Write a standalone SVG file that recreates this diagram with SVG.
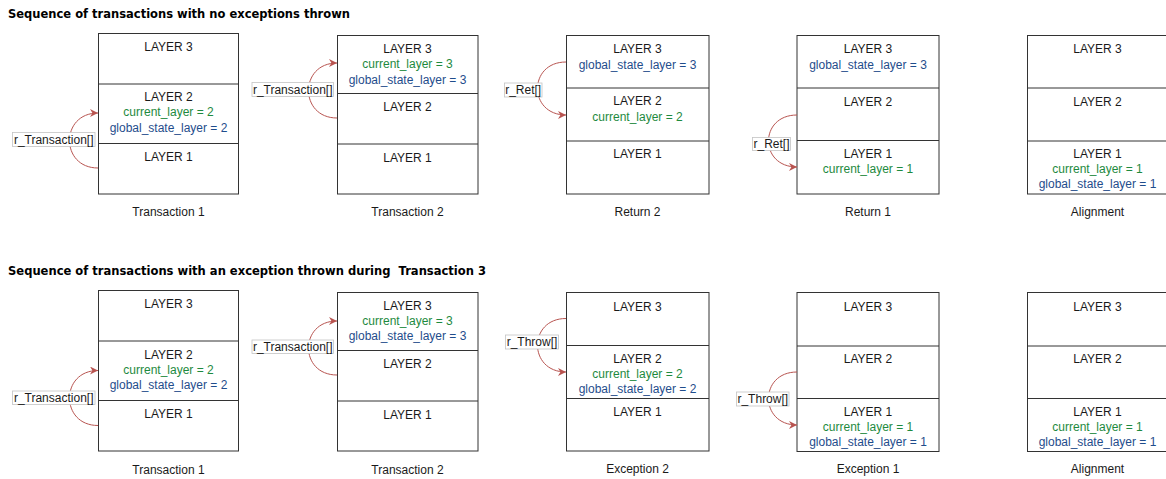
<svg xmlns="http://www.w3.org/2000/svg" width="1166" height="479" viewBox="0 0 1166 479">
<style>
.t{font-family:"Liberation Sans",Arial,Helvetica,sans-serif;font-size:12px;fill:#1a1a1a;text-anchor:middle}
.g{fill:#1e8a3e}
.b{fill:#1f4d8c}
.title{font-family:"DejaVu Sans",Verdana,sans-serif;font-size:13px;font-weight:bold;fill:#000;white-space:pre}
.box{fill:#fff;stroke:#333;stroke-width:1}
.div{stroke:#333;stroke-width:1}
.arr{fill:none;stroke:#b85450;stroke-width:1}
.lb{fill:#fff;stroke:#c4c4c4;stroke-width:0.8}
.lt{font-family:"Liberation Sans",Arial,Helvetica,sans-serif;font-size:12px;fill:#1a1a1a;text-anchor:middle}
</style>
<defs>
<marker id="ah" viewBox="0 0 10 10" refX="10" refY="5" markerWidth="8" markerHeight="8" markerUnits="userSpaceOnUse" orient="auto">
<path d="M0,0 L10,5 L0,10 L3,5 Z" fill="#b85450"/>
</marker>
</defs>
<rect width="1166" height="479" fill="#fff"/>

<text class="title" x="8" y="18.3" textLength="342" lengthAdjust="spacingAndGlyphs">Sequence of transactions with no exceptions thrown</text>
<text class="title" x="8" y="274.5" textLength="478" lengthAdjust="spacingAndGlyphs" xml:space="preserve">Sequence of transactions with an exception thrown during  Transaction 3</text>

<!-- Top row -->
<g id="top-transaction1">
<rect class="box" x="98.5" y="33.5" width="140" height="160.5"/>
<line class="div" x1="98.5" y1="84" x2="238.5" y2="84"/>
<line class="div" x1="98.5" y1="143.5" x2="238.5" y2="143.5"/>
<text class="t" x="168.5" y="51">LAYER 3</text>
<text class="t" x="168.5" y="101">LAYER 2</text>
<text class="t g" x="168.5" y="116">current_layer = 2</text>
<text class="t b" x="168.5" y="131.5">global_state_layer = 2</text>
<text class="t" x="168.5" y="161">LAYER 1</text>
<text class="t" x="168.5" y="216">Transaction 1</text>
</g>
<g id="top-transaction2">
<rect class="box" x="337.5" y="35.5" width="140.5" height="158.5"/>
<line class="div" x1="337.5" y1="93.5" x2="478" y2="93.5"/>
<line class="div" x1="337.5" y1="144" x2="478" y2="144"/>
<text class="t" x="407.5" y="52.5">LAYER 3</text>
<text class="t g" x="407.5" y="68">current_layer = 3</text>
<text class="t b" x="407.5" y="83.5">global_state_layer = 3</text>
<text class="t" x="407.5" y="111">LAYER 2</text>
<text class="t" x="407.5" y="161.5">LAYER 1</text>
<text class="t" x="407.5" y="216">Transaction 2</text>
</g>
<g id="top-return2">
<rect class="box" x="566.5" y="35.5" width="142.5" height="158.5"/>
<line class="div" x1="566.5" y1="88" x2="709" y2="88"/>
<line class="div" x1="566.5" y1="141" x2="709" y2="141"/>
<text class="t" x="637.5" y="53.3">LAYER 3</text>
<text class="t b" x="637.5" y="68.6">global_state_layer = 3</text>
<text class="t" x="637.5" y="105.3">LAYER 2</text>
<text class="t g" x="637.5" y="121">current_layer = 2</text>
<text class="t" x="637.5" y="157.6">LAYER 1</text>
<text class="t" x="637.5" y="216">Return 2</text>
</g>
<g id="top-return1">
<rect class="box" x="797" y="35.5" width="142" height="158.5"/>
<line class="div" x1="797" y1="88" x2="939" y2="88"/>
<line class="div" x1="797" y1="140.5" x2="939" y2="140.5"/>
<text class="t" x="868" y="53.3">LAYER 3</text>
<text class="t b" x="868" y="68.6">global_state_layer = 3</text>
<text class="t" x="868" y="106">LAYER 2</text>
<text class="t" x="868" y="157.6">LAYER 1</text>
<text class="t g" x="868" y="172.6">current_layer = 1</text>
<text class="t" x="868" y="216">Return 1</text>
</g>
<g id="top-alignment">
<rect class="box" x="1027.5" y="35.5" width="141" height="158.5"/>
<line class="div" x1="1027.5" y1="88" x2="1168" y2="88"/>
<line class="div" x1="1027.5" y1="141" x2="1168" y2="141"/>
<text class="t" x="1097.5" y="53.3">LAYER 3</text>
<text class="t" x="1097.5" y="106">LAYER 2</text>
<text class="t" x="1097.5" y="157.6">LAYER 1</text>
<text class="t g" x="1097.5" y="172.6">current_layer = 1</text>
<text class="t b" x="1097.5" y="188.3">global_state_layer = 1</text>
<text class="t" x="1097.5" y="216">Alignment</text>
</g>

<!-- Bottom row -->
<g id="bot-transaction1">
<rect class="box" x="98.5" y="290.5" width="140" height="160.5"/>
<line class="div" x1="98.5" y1="341" x2="238.5" y2="341"/>
<line class="div" x1="98.5" y1="400.5" x2="238.5" y2="400.5"/>
<text class="t" x="168.5" y="308.3">LAYER 3</text>
<text class="t" x="168.5" y="358.6">LAYER 2</text>
<text class="t g" x="168.5" y="373.6">current_layer = 2</text>
<text class="t b" x="168.5" y="388.6">global_state_layer = 2</text>
<text class="t" x="168.5" y="417.6">LAYER 1</text>
<text class="t" x="168.5" y="473.6">Transaction 1</text>
</g>
<g id="bot-transaction2">
<rect class="box" x="337.5" y="292.5" width="140.5" height="158.5"/>
<line class="div" x1="337.5" y1="350.5" x2="478" y2="350.5"/>
<line class="div" x1="337.5" y1="401" x2="478" y2="401"/>
<text class="t" x="407.5" y="309.8">LAYER 3</text>
<text class="t g" x="407.5" y="325">current_layer = 3</text>
<text class="t b" x="407.5" y="340.3">global_state_layer = 3</text>
<text class="t" x="407.5" y="368.2">LAYER 2</text>
<text class="t" x="407.5" y="418.6">LAYER 1</text>
<text class="t" x="407.5" y="473.6">Transaction 2</text>
</g>
<g id="bot-exception2">
<rect class="box" x="566.5" y="292.5" width="142.5" height="158.5"/>
<line class="div" x1="566.5" y1="345.5" x2="709" y2="345.5"/>
<line class="div" x1="566.5" y1="398.5" x2="709" y2="398.5"/>
<text class="t" x="637.5" y="311">LAYER 3</text>
<text class="t" x="637.5" y="362.6">LAYER 2</text>
<text class="t g" x="637.5" y="378.3">current_layer = 2</text>
<text class="t b" x="637.5" y="393.3">global_state_layer = 2</text>
<text class="t" x="637.5" y="416">LAYER 1</text>
<text class="t" x="637.5" y="472.6">Exception 2</text>
</g>
<g id="bot-exception1">
<rect class="box" x="797" y="292.5" width="142" height="159"/>
<line class="div" x1="797" y1="346" x2="939" y2="346"/>
<line class="div" x1="797" y1="398.5" x2="939" y2="398.5"/>
<text class="t" x="868" y="311">LAYER 3</text>
<text class="t" x="868" y="362.6">LAYER 2</text>
<text class="t" x="868" y="416">LAYER 1</text>
<text class="t g" x="868" y="431">current_layer = 1</text>
<text class="t b" x="868" y="446">global_state_layer = 1</text>
<text class="t" x="868" y="472.6">Exception 1</text>
</g>
<g id="bot-alignment">
<rect class="box" x="1027.5" y="292.5" width="141" height="159"/>
<line class="div" x1="1027.5" y1="346" x2="1168" y2="346"/>
<line class="div" x1="1027.5" y1="398.5" x2="1168" y2="398.5"/>
<text class="t" x="1097.5" y="311">LAYER 3</text>
<text class="t" x="1097.5" y="362.6">LAYER 2</text>
<text class="t" x="1097.5" y="416">LAYER 1</text>
<text class="t g" x="1097.5" y="431">current_layer = 1</text>
<text class="t b" x="1097.5" y="446">global_state_layer = 1</text>
<text class="t" x="1097.5" y="472.6">Alignment</text>
</g>

<g id="connectors">
<path class="arr" marker-end="url(#ah)" d="M98,168 C60,168 60,113 98,113"/>
<path class="arr" marker-end="url(#ah)" d="M337,118 C299,118 299,63 337,63"/>
<path class="arr" marker-end="url(#ah)" d="M566,62 C528,62 528,115 566,115"/>
<path class="arr" marker-end="url(#ah)" d="M797,115 C759,115 759,167 797,167"/>
<path class="arr" marker-end="url(#ah)" d="M98,425.5 C60,425.5 60,370.5 98,370.5"/>
<path class="arr" marker-end="url(#ah)" d="M337,375 C299,375 299,321 337,321"/>
<path class="arr" marker-end="url(#ah)" d="M566,318.5 C528,318.5 528,372 566,372"/>
<path class="arr" marker-end="url(#ah)" d="M797,372 C759,372 759,425 797,425"/>

<rect class="lb" x="12.5" y="132.5" width="82.5" height="14"/>
<text class="lt" x="53.7" y="143.8">r_Transaction[]</text>
<rect class="lb" x="252" y="82.5" width="81.5" height="14"/>
<text class="lt" x="292.7" y="93.8">r_Transaction[]</text>
<rect class="lb" x="504.5" y="83" width="37.5" height="14"/>
<text class="lt" x="523.2" y="94.3">r_Ret[]</text>
<rect class="lb" x="752.5" y="137.5" width="38" height="13"/>
<text class="lt" x="771.5" y="148.3">r_Ret[]</text>
<rect class="lb" x="12.5" y="391" width="82.5" height="13.5"/>
<text class="lt" x="53.7" y="402">r_Transaction[]</text>
<rect class="lb" x="252" y="340" width="81.5" height="13.5"/>
<text class="lt" x="292.7" y="351">r_Transaction[]</text>
<rect class="lb" x="505.5" y="335" width="53" height="14"/>
<text class="lt" x="532" y="346.3">r_Throw[]</text>
<rect class="lb" x="736.5" y="392" width="52.5" height="14"/>
<text class="lt" x="762.8" y="403.3">r_Throw[]</text>
</g>
</svg>
